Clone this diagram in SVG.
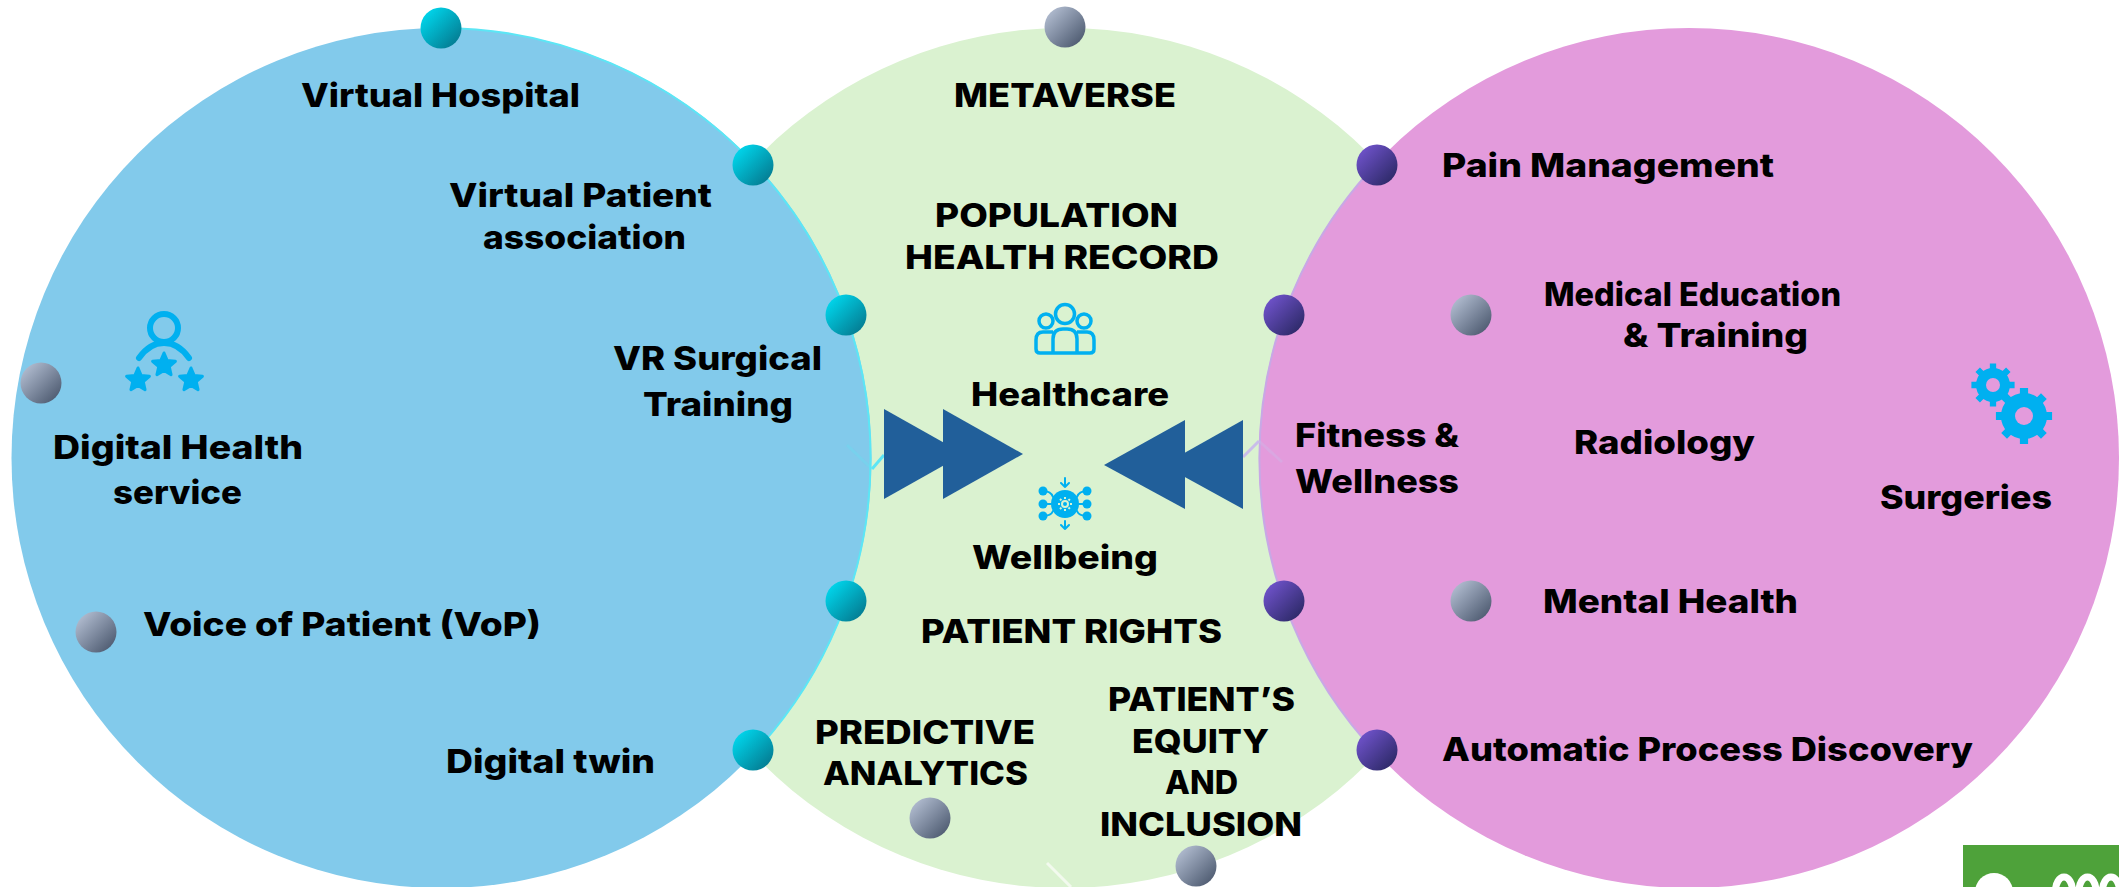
<svg xmlns="http://www.w3.org/2000/svg" xmlns:xlink="http://www.w3.org/1999/xlink" width="2119" height="887" viewBox="0 0 2119 887">
<style>
text{font-family:"Inter","Liberation Sans",sans-serif;font-weight:800;font-size:33px;fill:#000}
.teal{fill:url(#gt)}.purple{fill:url(#gp)}.grey{fill:url(#gg)}
.ic{fill:#00b0f0}.icl{fill:none;stroke:#00b0f0;stroke-linecap:round;stroke-linejoin:round}
.tri{fill:#215f9a}
</style>
<defs>
<linearGradient id="gt" x1="0.1" y1="0.1" x2="0.9" y2="0.9"><stop offset="0" stop-color="#00d8ee"/><stop offset="1" stop-color="#047a90"/></linearGradient>
<linearGradient id="gp" x1="0.1" y1="0.1" x2="0.9" y2="0.9"><stop offset="0" stop-color="#7053cc"/><stop offset="1" stop-color="#2c2966"/></linearGradient>
<linearGradient id="gg" x1="0.1" y1="0.1" x2="0.9" y2="0.9"><stop offset="0" stop-color="#b2bdd1"/><stop offset="1" stop-color="#4d5a70"/></linearGradient>
<path id="star" class="ic" stroke="#00b0f0" stroke-width="3" stroke-linejoin="round" d="M0-12L3.23-4.45L11.4-3.7L5.23 1.7L7.05 9.7L0 5.5L-7.05 9.7L-5.23 1.7L-11.4-3.7L-3.23-4.45Z"/>
<path id="teeth" stroke="#00b0f0" fill="none" d="M0-24V24M-24 0H24M-17-17L17 17M-17 17L17-17"/>
</defs>
<g id="circles">
<circle id="center-circle" cx="1065" cy="458" r="430" fill="#daf2d0"/>
<circle id="left-circle" cx="441.5" cy="458" r="430" fill="#82caeb"/>
<path d="M441.5 28A430 430 0 0 1 753 163M753 163A430 430 0 0 1 753 754" fill="none" stroke="#5ce6f5" stroke-width="2"/>
<circle id="right-circle" cx="1689" cy="458" r="430" fill="#e39bdc"/>
<path d="M1377 163A430 430 0 0 0 1377 754" fill="none" stroke="#c8a8e6" stroke-width="2"/>
</g>
<g id="connectors" fill="none" stroke-width="3">
<path d="M847 445L872 469" stroke="#5ce6f5" stroke-opacity=".25"/>
<path d="M872 469L884 455" stroke="#5ce6f5"/>
<path d="M1243 457L1259 441" stroke="#c9bdea"/>
<path d="M1259 441L1282 462" stroke="#c9bdea" stroke-opacity=".35"/>
<path d="M1047 863L1071 887" stroke="#f2faee"/>
</g>
<g id="arrows">
<path class="tri" d="M884 409L964 454L884 499Z"/><path class="tri" d="M943 409L1023 454L943 499Z"/>
<path class="tri" d="M1243 420L1163 465L1243 509Z"/><path class="tri" d="M1185 420L1104 465L1185 509Z"/>
</g>
<g id="dots">
<circle class="teal" cx="441" cy="28" r="20.5"/><circle class="teal" cx="753" cy="165" r="20.5"/><circle class="teal" cx="846" cy="315" r="20.5"/><circle class="teal" cx="846" cy="601" r="20.5"/><circle class="teal" cx="753" cy="750" r="20.5"/>
<circle class="purple" cx="1377" cy="165" r="20.5"/><circle class="purple" cx="1284" cy="315" r="20.5"/><circle class="purple" cx="1284" cy="601" r="20.5"/><circle class="purple" cx="1377" cy="750" r="20.5"/>
<circle class="grey" cx="1065" cy="27" r="20.5"/><circle class="grey" cx="41" cy="383" r="20.5"/><circle class="grey" cx="96" cy="632" r="20.5"/><circle class="grey" cx="1471" cy="315" r="20.5"/><circle class="grey" cx="1471" cy="601" r="20.5"/><circle class="grey" cx="930" cy="818" r="20.5"/><circle class="grey" cx="1196" cy="866" r="20.5"/>
</g>
<g id="icon-person">
<circle class="icl" cx="164" cy="328" r="14" stroke-width="6"/>
<path class="icl" stroke-width="6" d="M139 358C146 348 155 343 164 343S182 348 189 358"/>
<use xlink:href="#star" href="#star" x="164" y="365"/><use xlink:href="#star" href="#star" x="138" y="380"/><use xlink:href="#star" href="#star" x="191" y="380"/>
</g>
<g id="icon-people" fill="none" stroke="#00b0f0" stroke-width="3.5" stroke-linejoin="round">
<circle cx="1065" cy="314" r="9.5"/><circle cx="1046" cy="321" r="7"/><circle cx="1084" cy="321" r="7"/>
<path d="M1053 353V339Q1053 329 1063 329H1067Q1077 329 1077 339V353"/>
<path d="M1053 332H1043Q1036 332 1036 340V349Q1036 353 1040 353H1090Q1094 353 1094 349V340Q1094 332 1087 332H1077"/>
</g>
<g id="icon-network">
<circle class="ic" cx="1065" cy="504" r="14"/>
<circle cx="1065" cy="504" r="3" fill="none" stroke="#daf2d0" stroke-width="2"/>
<g stroke="#daf2d0" stroke-width="2"><path d="M1065 497V511M1058 504H1072M1060 499L1070 509M1060 509L1070 499" stroke-dasharray="2 10 2"/></g>
<circle class="ic" cx="1043" cy="491" r="4.5"/><circle class="ic" cx="1043" cy="504" r="4.5"/><circle class="ic" cx="1043" cy="516" r="4.5"/>
<circle class="ic" cx="1087" cy="491" r="4.5"/><circle class="ic" cx="1087" cy="504" r="4.5"/><circle class="ic" cx="1087" cy="516" r="4.5"/>
<path class="icl" stroke-width="2" d="M1043 491Q1051 491 1053 497M1043 504H1051M1043 516Q1051 516 1053 511M1087 491Q1079 491 1077 497M1087 504H1079M1087 516Q1079 516 1077 511M1065 478V487M1061 483L1065 487L1069 483M1065 521V529M1061 525L1065 529L1069 525"/>
</g>
<g id="icon-gears">
<use xlink:href="#teeth" href="#teeth" transform="translate(1993 385) scale(.9)" stroke-width="7"/>
<circle cx="1993" cy="385" r="12" fill="none" stroke="#00b0f0" stroke-width="10"/>
<circle cx="1993" cy="385" r="7" fill="#e39bdc"/>
<use xlink:href="#teeth" href="#teeth" transform="translate(2024 416) scale(1.17)" stroke-width="7"/>
<circle cx="2024" cy="416" r="16" fill="none" stroke="#00b0f0" stroke-width="14"/>
<circle cx="2024" cy="416" r="9" fill="#e39bdc"/>
</g>
<g id="labels-left">
<text x="301" y="107" textLength="279" lengthAdjust="spacingAndGlyphs">Virtual Hospital</text>
<text x="449" y="207" textLength="263" lengthAdjust="spacingAndGlyphs">Virtual Patient</text>
<text x="483" y="249" textLength="203" lengthAdjust="spacingAndGlyphs">association</text>
<text x="613" y="370" textLength="209" lengthAdjust="spacingAndGlyphs">VR Surgical</text>
<text x="643" y="416" textLength="150" lengthAdjust="spacingAndGlyphs">Training</text>
<text x="53" y="459" textLength="250" lengthAdjust="spacingAndGlyphs">Digital Health</text>
<text x="113" y="504" textLength="129" lengthAdjust="spacingAndGlyphs">service</text>
<text x="143" y="636" textLength="398" lengthAdjust="spacingAndGlyphs">Voice of Patient (VoP)</text>
<text x="446" y="773" textLength="209" lengthAdjust="spacingAndGlyphs">Digital twin</text>
</g>
<g id="labels-center">
<text x="954" y="107" textLength="222" lengthAdjust="spacingAndGlyphs">METAVERSE</text>
<text x="935" y="227" textLength="243" lengthAdjust="spacingAndGlyphs">POPULATION</text>
<text x="905" y="269" textLength="314" lengthAdjust="spacingAndGlyphs">HEALTH RECORD</text>
<text x="971" y="406" textLength="198" lengthAdjust="spacingAndGlyphs">Healthcare</text>
<text x="972" y="569" textLength="186" lengthAdjust="spacingAndGlyphs">Wellbeing</text>
<text x="921" y="643" textLength="301" lengthAdjust="spacingAndGlyphs">PATIENT RIGHTS</text>
<text x="815" y="744" textLength="220" lengthAdjust="spacingAndGlyphs">PREDICTIVE</text>
<text x="823" y="785" textLength="205" lengthAdjust="spacingAndGlyphs">ANALYTICS</text>
<text x="1108" y="711" textLength="187" lengthAdjust="spacingAndGlyphs">PATIENT’S</text>
<text x="1132" y="753" textLength="137" lengthAdjust="spacingAndGlyphs">EQUITY</text>
<text x="1165" y="794" textLength="73" lengthAdjust="spacingAndGlyphs">AND</text>
<text x="1100" y="836" textLength="202" lengthAdjust="spacingAndGlyphs">INCLUSION</text>
</g>
<g id="labels-right">
<text x="1442" y="177" textLength="332" lengthAdjust="spacingAndGlyphs">Pain Management</text>
<text x="1544" y="306" textLength="297" lengthAdjust="spacingAndGlyphs">Medical Education</text>
<text x="1623" y="347" textLength="185" lengthAdjust="spacingAndGlyphs">&amp; Training</text>
<text x="1295" y="447" textLength="164" lengthAdjust="spacingAndGlyphs">Fitness &amp;</text>
<text x="1295" y="493" textLength="164" lengthAdjust="spacingAndGlyphs">Wellness</text>
<text x="1574" y="454" textLength="181" lengthAdjust="spacingAndGlyphs">Radiology</text>
<text x="1880" y="509" textLength="172" lengthAdjust="spacingAndGlyphs">Surgeries</text>
<text x="1543" y="613" textLength="255" lengthAdjust="spacingAndGlyphs">Mental Health</text>
<text x="1442" y="761" textLength="531" lengthAdjust="spacingAndGlyphs">Automatic Process Discovery</text>
</g>
<g id="badge">
<rect x="1963" y="845" width="156" height="42" fill="#4ea23a"/>
<circle cx="1994" cy="892" r="19" fill="#fff"/>
<g fill="none" stroke="#fff" stroke-width="7"><ellipse cx="2064" cy="891" rx="8.5" ry="14"/><ellipse cx="2087.500" cy="891" rx="8.5" ry="14"/><ellipse cx="2111" cy="891" rx="8.5" ry="14"/></g>
</g>
</svg>
